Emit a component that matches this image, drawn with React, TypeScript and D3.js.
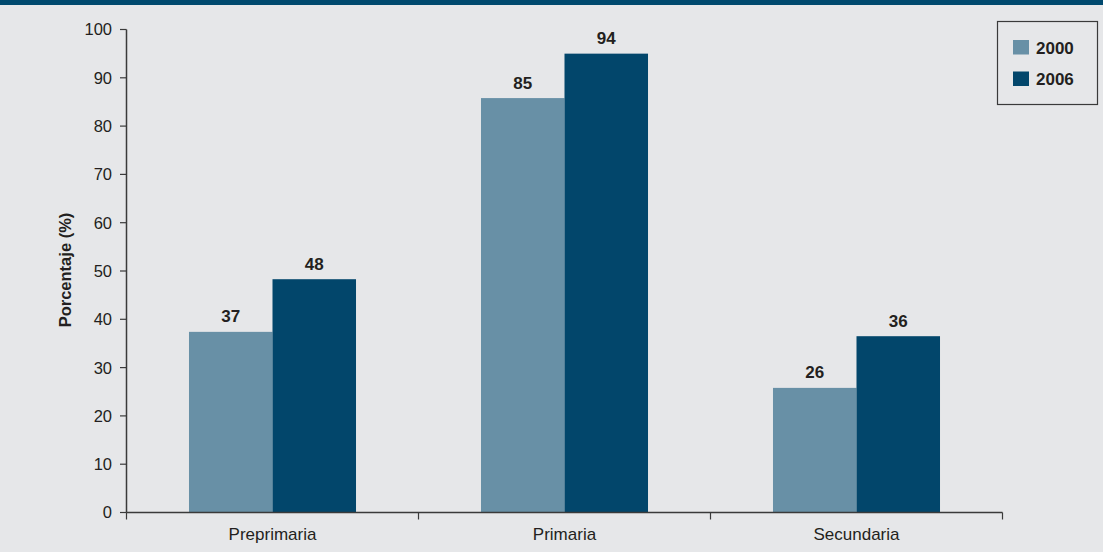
import React from "react";
import * as d3 from "d3";

const categories = ["Preprimaria", "Primaria", "Secundaria"];
const seriesNames = ["2000", "2006"];
const values2000 = [37.4, 85.8, 25.8];
const values2006 = [48.3, 95.0, 36.5];
const labels2000 = ["37", "85", "26"];
const labels2006 = ["48", "94", "36"];
const yTicks = [0, 10, 20, 30, 40, 50, 60, 70, 80, 90, 100];
const colors = ["#6890a6", "#02466b"];

const W = 1103;
const H = 552;
const FONT = "'Liberation Sans', Arial, Helvetica, sans-serif";

export default function App() {
  const x = d3.scaleBand<string>().domain(categories).range([126.5, 1002.5]).padding(0);
  const bw = x.bandwidth();
  const xInner = d3.scaleBand<string>().domain(seriesNames).range([bw * 0.214, bw * 0.786]).padding(0);
  const y = d3.scaleLinear().domain([0, 100]).range([512.5, 29.5]);
  const axisColor = "#3a3a3a";
  const series = [
    { name: seriesNames[0], vals: values2000, labels: labels2000, color: colors[0] },
    { name: seriesNames[1], vals: values2006, labels: labels2006, color: colors[1] },
  ];
  const boundaries = [...categories.map((c) => x(c)!), x(categories[categories.length - 1])! + bw];

  return (
    <svg width={W} height={H} style={{ position: "absolute", left: 0, top: 0, fontFamily: FONT }}>
      <rect x={0} y={0} width={W} height={H} fill="#e6e7e9" />
      <rect x={0} y={0} width={W} height={5} fill="#00496e" />

      {/* bars */}
      {series.map((s) =>
        categories.map((c, i) => {
          const bx = x(c)! + xInner(s.name)!;
          const bwid = xInner.bandwidth();
          return (
            <g key={s.name + c}>
              <rect x={bx} y={y(s.vals[i])} width={bwid} height={y(0) - y(s.vals[i])} fill={s.color} />
              <text
                x={bx + bwid / 2}
                y={y(s.vals[i]) - 9.5}
                textAnchor="middle"
                fontSize={17}
                fontWeight="bold"
                fill="#231f20"
              >
                {s.labels[i]}
              </text>
            </g>
          );
        })
      )}

      {/* y axis */}
      <line x1={126.5} x2={126.5} y1={y(100)} y2={y(0)} stroke={axisColor} strokeWidth={1.5} />
      {yTicks.map((t) => (
        <g key={t}>
          <line x1={120} x2={126.5} y1={y(t)} y2={y(t)} stroke={axisColor} strokeWidth={1.2} />
          <text x={112} y={y(t)} dy="0.36em" textAnchor="end" fontSize={16.5} fill="#231f20">
            {t}
          </text>
        </g>
      ))}
      <text
        transform={`translate(71,270) rotate(-90)`}
        textAnchor="middle"
        fontSize={16.5}
        fontWeight="bold"
        fill="#231f20"
      >
        Porcentaje (%)
      </text>

      {/* x axis */}
      <line x1={126.5} x2={1002.5} y1={y(0)} y2={y(0)} stroke={axisColor} strokeWidth={1.5} />
      {boundaries.map((b, i) => (
        <line key={i} x1={b} x2={b} y1={y(0)} y2={y(0) + 7} stroke={axisColor} strokeWidth={1.2} />
      ))}
      {categories.map((c) => (
        <text key={c} x={x(c)! + bw / 2} y={540} textAnchor="middle" fontSize={17} fill="#231f20">
          {c}
        </text>
      ))}

      {/* legend */}
      <rect x={997.5} y={21.5} width={100} height={83} fill="none" stroke={axisColor} strokeWidth={1.2} />
      {series.map((s, i) => (
        <g key={s.name}>
          <rect x={1013} y={40 + i * 31.5} width={16} height={14.5} fill={s.color} />
          <text x={1036} y={53.5 + i * 31.5} fontSize={17} fontWeight="bold" fill="#231f20">
            {s.name}
          </text>
        </g>
      ))}
    </svg>
  );
}
